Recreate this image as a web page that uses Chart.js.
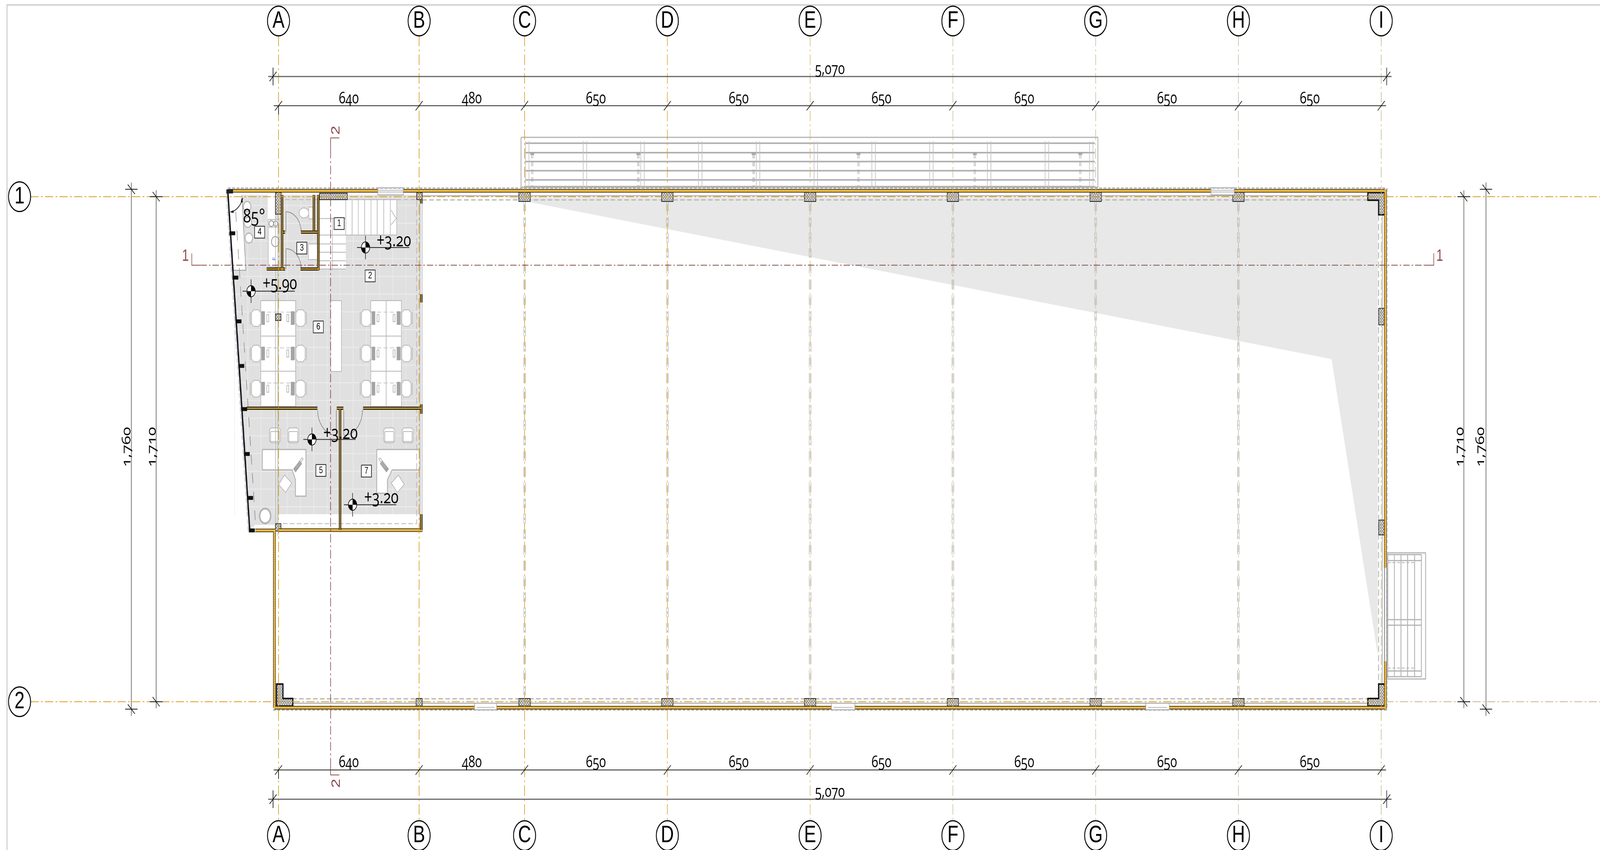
<!DOCTYPE html>
<html>
<head>
<meta charset="utf-8">
<title>Floor plan</title>
<script src="https://cdn.jsdelivr.net/npm/chart.js@4"></script>
<style>
  html, body { margin: 0; padding: 0; background: #fff; overflow: hidden; }
  canvas { display: block; font-feature-settings: "onum" 1; font-variant-numeric: oldstyle-nums; }
</style>
</head>
<body>
<canvas id="plan" width="5509" height="2177" style="width:100vw;height:100vh"></canvas>
<script>
// all plan values are in centimetres, origin = grid A / grid 1
const gridLetters = ['A', 'B', 'C', 'D', 'E', 'F', 'G', 'H', 'I'];
const gridSpans = [640, 480, 650, 650, 650, 650, 650, 650];
const gridColors = ['#d69a1e', '#d69a1e', '#d69a1e', '#d69a1e', '#d2b070', '#c9b48a', '#c4b596', '#c4b596', '#c9b48a'];
const rowLabels = ['1', '2'];
const rowY = [0, 1710];
const totalLength = 5070;
const totalWidth = 1760;
const innerWidth_ = 1710;
const wallOffset = 25;

const gridX = [0];
gridSpans.forEach(s => gridX.push(gridX[gridX.length - 1] + s));

// elevation marks
const levelLabels = ['+3.20', '+5.90', '+3.20', '+3.20'];
const levelX = [396, -125, 152, 337];
const levelY = [172, 320, 822, 1043];
const levelTextX = [525, 6, 282, 468];
const levelTextY = [150, 296, 802, 1020];

// room tags
const roomNumbers = ['1', '2', '3', '4', '5', '6', '7'];
const roomX = [276, 417, 106, -86, 193, 181, 400];
const roomY = [91, 268, 174, 120, 927, 441, 929];

// columns on the long walls
const topColumnGrids = [2, 3, 4, 5, 6, 7];
const bottomColumnGrids = [2, 3, 4, 5, 6, 7];
const sideColumnY = [[378, 434], [1095, 1145]];

// windows, [from, to]
const topWindows = [[452, 568], [4245, 4351]];
const bottomWindows = [[892, 993], [2517, 2624], [3948, 4055]];

// balcony on the long side
const railY = [-181, -149, -119, -88, -57, -34];
const railPostX = [1132, 1395, 1657, 1920, 2183, 2446, 2709, 2972, 3235, 3498, 3700];
const railBracketX = [1155, 1638, 2163, 2640, 3170, 3650];

// stair on the short side
const stairX = [5050, 5080, 5110, 5140, 5172, 5203];
const stairRailY = [1212, 1232, 1432, 1451, 1606, 1625];

// office furniture
const deskRows = [352, 472, 591, 711];
const chairX = [-102, 100, 399, 582];
const chairY = [411, 531, 650];
const monitorX = [-70, 64, 432, 546];
const standX = [-49, 42, 453, 526];
const visitorX = [-16, 67, 504, 588];
const stoolY = [33, 87, 140];
const stoolX = [-143, -140, -135];
const mullionY = [124, 274, 422, 573, 719, 871, 1020, 1130];
const mullionX = [-224, -210, -196, -183, -170, -158, -143, -135];
const tileX = [-200, -140, -80, -20, 40, 100, 160, 220, 280, 340, 400, 460, 520, 580, 640];
const tileY = [30, 90, 150, 210, 270, 330, 390, 450, 510, 570, 630, 690, 750, 810, 870, 930, 990, 1050];
const treadX = [306, 335, 363, 392, 421, 449, 479, 509, 538];
const treadY = [130, 160, 188, 217, 245];

const floorOutline = [[-228, -6], [650, -6], [650, 1075], [-3, 1075], [-3, 1111], [-106, 1111], [-131, 1128]];
const shadowOutline = [[1030, 2], [4794, 550], [5004, 1552], [5005, 2]];
const glassLine = [[-231, -18], [-131, 1132]];

const GREY = '#b4b4b4';
const WALL = '#e6ab25';
const SECTION = '#8b4a4a';

function rect(x0, y0, x1, y1) {
  return [[x0, y0], [x1, y0], [x1, y1], [x0, y1], [x0, y0]];
}
function box(cx, cy, w, h) {
  return rect(cx - w / 2, cy - h / 2, cx + w / 2, cy + h / 2);
}
function ring(cx, cy, rx, ry, a0 = 0, a1 = 360, wedge = false) {
  const pts = wedge ? [[cx, cy]] : [];
  for (let a = a0; a <= a1; a += 10) {
    pts.push([cx + rx * Math.cos(a * Math.PI / 180), cy + ry * Math.sin(a * Math.PI / 180)]);
  }
  if (wedge) pts.push([cx, cy]);
  return pts;
}
function chamfer(cx, cy, w, h, c) {
  const a = w / 2, b = h / 2;
  return [[cx - a + c, cy - b], [cx + a - c, cy - b], [cx + a, cy - b + c], [cx + a, cy + b - c],
    [cx + a - c, cy + b], [cx - a + c, cy + b], [cx - a, cy + b - c], [cx - a, cy - b + c], [cx - a + c, cy - b]];
}
function turned(cx, cy, w, h, deg) {
  const t = deg * Math.PI / 180;
  return [[-w, -h], [w, -h], [w, h], [-w, h], [-w, -h]].map(([a, b]) =>
    [cx + a / 2 * Math.cos(t) - b / 2 * Math.sin(t), cy + a / 2 * Math.sin(t) + b / 2 * Math.cos(t)]);
}

function toPoints(paths) {
  const out = [];
  paths.forEach(p => {
    p.forEach(([x, y]) => out.push({ x, y }));
    out.push({ x: null, y: null });
  });
  return out;
}

const layers = []; // back to front
function stroke(paths, color, width, dash) {
  layers.push({
    data: toPoints(paths), showLine: true, pointRadius: 0, fill: false, spanGaps: false,
    borderColor: color, borderWidth: width, borderDash: dash || [], borderCapStyle: 'butt', borderJoinStyle: 'miter'
  });
}
function solid(paths, bg, color, width) {
  layers.push({
    data: toPoints(paths), showLine: true, pointRadius: 0, fill: 'shape', spanGaps: false,
    backgroundColor: bg, borderColor: color || bg, borderWidth: width || 0, borderJoinStyle: 'miter'
  });
}

function hatchPattern() {
  const c = document.createElement('canvas');
  c.width = 8; c.height = 8;
  const g = c.getContext('2d');
  g.fillStyle = '#d8d8d8';
  g.fillRect(0, 0, 8, 8);
  g.strokeStyle = '#4c4c4c';
  g.lineWidth = 1;
  g.beginPath();
  g.moveTo(0, 0); g.lineTo(8, 8);
  g.moveTo(8, 0); g.lineTo(0, 8);
  g.stroke();
  return g.createPattern(c, 'repeat');
}
const hatch = hatchPattern();

// ---- shadow and office floor
solid([[...shadowOutline, shadowOutline[0]]], '#e8e8e8');
solid([[...floorOutline, floorOutline[0]]], '#e0e0e0');

const glassXAt = y => glassLine[0][0] + (y - glassLine[0][1]) * (glassLine[1][0] - glassLine[0][0]) / (glassLine[1][1] - glassLine[0][1]);
stroke(tileX.map(x => [[x, -6], [x, 1075]]), '#ededed', 2);
stroke(tileY.map(y => [[glassXAt(y), y], [650, y]]), '#ededed', 2);

// white parts of the office: terrace wedge, counter, stairs
solid([[[-231, -6], [-167, -6], [-149, 249], [-206, 249], [-231, -6]]], '#ffffff');
stroke([[[-167, -6], [-149, 249], [-206, 249]]], '#999999', 2);
solid([rect(-49, -6, -14, 249)], '#ffffff');
solid([rect(184, 10, 306, 245), rect(306, 10, 538, 130)], '#ffffff');
solid([rect(-3, 1075, 650, 1129)], '#ffffff');
solid([rect(-106, 1112, -14, 1130)], '#ffffff');

// stairs
stroke(treadX.map(x => [[x, 10], [x, 130]]), GREY, 2);
stroke(treadY.map(y => [[184, y], [306, y]]), GREY, 2);
stroke([[[184, 10], [538, 10]], [[245, 130], [538, 130]], [[245, 71], [245, 249]], [[184, 74], [306, 74]],
  [[512, 45], [536, 74], [512, 95]]], GREY, 2);

// desks
[[-81, -1, 78], [420, 490, 559]].forEach(([a, m, b]) => {
  solid([rect(a, deskRows[0], b, deskRows[3])], '#ffffff', GREY, 2);
  stroke([[[m, deskRows[0]], [m, deskRows[3]]], ...deskRows.slice(1, 3).map(y => [[a, y], [b, y]])], GREY, 2);
  stroke([391, 512, 631].map(y => [[a, y], [b, y]]), '#c8c8c8', 2, [14, 8]);
});
solid([rect(237, 352, 286, 592)], '#ffffff', GREY, 2);
chairY.forEach(y => {
  chairX.forEach((x, i) => {
    solid([chamfer(x, y, 42, 56, 10)], '#ffffff', GREY, 2);
    stroke([[[x - 27, y - 22], [x - 27, y + 22]], [[x + 27, y - 22], [x + 27, y + 22]]], GREY, 2);
    solid([box(monitorX[i], y, 16, 46)], '#a4a4a4');
    stroke([box(standX[i], y, 9, 24)], GREY, 2);
  });
});
visitorX.forEach(x => {
  solid([chamfer(x, 808, 50, 50, 7)], '#ffffff', GREY, 2);
  stroke([box(x, 812, 40, 34)], GREY, 2);
});
solid([[[-74, 856], [125, 856], [125, 1014], [77, 1014], [77, 958], [62, 925], [-74, 925], [-74, 856]]], '#ffffff', GREY, 3);
solid([[[447, 856], [643, 856], [643, 925], [517, 925], [496, 958], [496, 1004], [447, 1004], [447, 856]]], '#ffffff', GREY, 3);
solid([turned(30, 972, 42, 42, 40), turned(543, 972, 42, 42, 50)], '#ffffff', GREY, 2);
solid([turned(87, 913, 42, 16, -45), turned(482, 913, 42, 16, 45)], '#a4a4a4');
stroke([turned(96, 900, 38, 7, -45), turned(473, 900, 38, 7, 45)], GREY, 2);

// plant, stools, kitchen, toilet
solid([ring(-61, 1081, 25, 25)], '#ffffff', GREY, 5);
solid(stoolX.map((x, i) => ring(x, stoolY[i], 17, 17)), '#ffffff', GREY, 3);
solid([rect(-47, 77, 3, 237), rect(-47, 77, 3, 103)], '#ffffff', GREY, 2);
stroke([ring(-33, 91, 10, 10), ring(-13, 91, 9, 9), ring(-15, 152, 17, 17)], '#8a8a8a', 2);
solid([ring(116, 55, 22, 17), box(147, 55, 18, 40), rect(136, 160, 177, 213)], '#ffffff', GREY, 2);

// door swings
stroke([[[34, 120], [34, 51]], ring(34, 120, 69, 69, -90, 0), [[34, 245], [34, 176]], ring(34, 245, 69, 69, -90, 0),
  [[263, 723], [263, 808]], ring(263, 723, 85, 85, 90, 180), [[297, 723], [297, 808]], ring(297, 723, 85, 85, 0, 90)], '#8a8a8a', 2);

// ceiling outline and inner lines
stroke([rect(-2, 10, 629, 1107)], GREY, 2, [16, 8]);
stroke([[[-14, -6], [-14, 1150]], [[-3, -6], [-3, 1150]], [[643, 10], [643, 1128]], [[654, 10], [654, 1128]]], GREY, 2);
stroke([[[-195, 51], [-106, 1095]]], '#8f8f8f', 2, [26, 22]);
stroke([[[-239, -22], [-138, 1134]]], GREY, 2, [12, 6]);

// long inner lines of the hall
stroke([[[654, 11], [5008, 11]], [[-2, 1700], [5008, 1700]], [[5008, 61], [5008, 1650]]], GREY, 3, [16, 8]);
stroke([[[654, -3], [5008, -3]], [[20, 1715], [4960, 1715]], [[5025, 61], [5025, 1650]]], '#999999', 2);
stroke(gridX.slice(2, 8).flatMap(x => [[[x - 4, 16], [x - 4, 1699]], [[x + 4, 16], [x + 4, 1699]]]), '#bcbcbc', 2, [25, 15]);

// balcony
stroke([rect(1104, -201, 3730, -32)], GREY, 3);
stroke(railY.map(y => [[1122, y], [3716, y]]), '#b0b0b0', 4);
stroke(railPostX.flatMap(x => [[[x - 8, -188], [x - 8, -30]], [[x + 8, -188], [x + 8, -30]]]), '#c0c0c0', 2);
stroke(railBracketX.flatMap(x => [[[x - 3, -145], [x - 3, -34]], [[x + 3, -145], [x + 3, -34]]]), '#a8a8a8', 2, [12, 8]);
solid(railBracketX.map(x => box(x, -146, 18, 10)), '#a8a8a8');
stroke([[[1104, -27], [3730, -27]]], '#ffffff', 4, [12, 8]);

// side stair
stroke([rect(5049, 1206, 5222, 1633)], GREY, 3);
stroke(stairX.map(x => [[x, 1212], [x, 1625]]), GREY, 3);
stroke(stairRailY.map(y => [[5050, y], [5203, y]]), GREY, 3);
stroke([[[5050, 1239], [5172, 1239]], [[5050, 1596], [5172, 1596]]], GREY, 2, [10, 6]);
stroke([[[5035, 1256], [5035, 1573]], [[5045, 1256], [5045, 1573]]], '#8a8a8a', 3);

// columns
const columnRects = [
  ...topColumnGrids.map(i => rect(gridX[i] - 26, -15, gridX[i] + 26, 16)),
  ...bottomColumnGrids.map(i => rect(gridX[i] - 26, 1699, gridX[i] + 26, 1725)),
  rect(626, 1699, 654, 1725),
  ...sideColumnY.map(([a, b]) => rect(5008, a, 5034, b)),
  rect(-14, -14, 12, 59), rect(-14, 397, 11, 419), rect(-14, 1107, 11, 1132),
  rect(186, -12, 313, 10), rect(629, -14, 654, 10)
];
const cornerColumns = [
  [[4959, -14], [5036, -14], [5036, 61], [5008, 61], [5008, 12], [4959, 12], [4959, -14]],
  [[4959, 1725], [5036, 1725], [5036, 1650], [5008, 1650], [5008, 1699], [4959, 1699], [4959, 1725]],
  [[65, 1725], [-9, 1725], [-9, 1650], [20, 1650], [20, 1699], [65, 1699], [65, 1725]]
];
solid(columnRects, hatch, '#222222', 2);
solid(cornerColumns, hatch, '#111111', 4);

// walls: dark body with insulation on top
const topWall = [[-228, -20]];
topWindows.forEach(([a, b]) => topWall.push([a, -20], null, [b, -20]));
topWall.push([5039, -20]);
const splitPath = list => list.reduce((acc, p) => {
  if (p === null) acc.push([]); else acc[acc.length - 1].push(p);
  return acc;
}, [[]]);
const bottomWall = [[-19, 1730]];
bottomWindows.forEach(([a, b]) => bottomWall.push([a, 1730], null, [b, 1730]));
bottomWall.push([5039, 1730]);
const outerWalls = [
  ...splitPath(topWall), ...splitPath(bottomWall),
  [[5039, -25], [5039, 1256]], [[5039, 1573], [5039, 1735]],
  [[-19, 1128], [-19, 1730]], [[-106, 1130], [-14, 1130]], [[-2, 1129], [655, 1129]]
];
stroke(outerWalls, '#1c1c1c', 9);
stroke(outerWalls, WALL, 6);
stroke(outerWalls, '#fff3d0', 2, [2, 4]);
const innerWalls = [
  [[16, -6], [16, 249]], [[161, -6], [161, 116]], [[181, -6], [181, 249]],
  [[20, 120], [30, 120]], [[102, 120], [177, 120]], [[-54, 245], [30, 245]], [[100, 245], [184, 245]],
  [[-145, 716], [177, 716]], [[265, 716], [295, 716]], [[385, 716], [650, 716]], [[280, 719], [280, 1128]],
  [[650, 10], [650, 23]], [[650, 330], [650, 358]], [[650, 703], [650, 735]], [[650, 1075], [650, 1128]]
];
stroke(innerWalls, '#161616', 8);
stroke(innerWalls, WALL, 3);

// windows on the long walls
solid([...topWindows.map(([a, b]) => rect(a, -30, b, -6)), ...bottomWindows.map(([a, b]) => rect(a, 1715, b, 1737))], '#ffffff', '#9a9a9a', 2);
stroke([...topWindows.flatMap(([a, b]) => [[[a, -22], [b, -22]], [[a, -16], [b, -16]]]),
  ...bottomWindows.map(([a, b]) => [[a + 10, 1729], [b - 10, 1729]])], GREY, 2);
stroke([[[-231, -29], [5045, -29]], [[-25, 1738], [5045, 1738]], [[5046, -29], [5046, 1738]]], '#aaaaaa', 3, [10, 5]);

// glazed front with its mullions
stroke([glassLine], '#15151f', 5);
stroke(mullionX.map((x, i) => [[x, mullionY[i]], [x + 27, mullionY[i]]]), '#111111', 10);
solid([box(-222, -18, 30, 14)], '#222222');

// grid lines
const bubbleTop = -595, bubbleBottom = 2163, bubbleLeft = -1179;
gridX.forEach((x, i) => {
  stroke([[[x, bubbleTop + 50], [x, bubbleBottom - 50]]], gridColors[i], 2, [27, 8, 5, 8]);
});
rowY.forEach(y => {
  stroke([[[bubbleLeft + 50, y], [5039, y]]], '#d69a1e', 2, [28, 8, 6, 8]);
  stroke([[[5039, y], [6016, y]]], y === 0 ? '#d69a1e' : '#c9b48a', 2, [28, 8, 6, 8]);
});

// section lines
const sectionLeft = -395, sectionRight = 5259, sectionY = 232, sectionCol = 237;
stroke([[[sectionLeft + 40, sectionY], [sectionRight - 40, sectionY]],
  [[sectionCol, -159], [sectionCol, 1918]]], SECTION, 2, [22, 7, 5, 7]);
stroke([[[sectionLeft, sectionY - 40], [sectionLeft, sectionY], [sectionLeft + 40, sectionY]],
  [[sectionRight - 40, sectionY], [sectionRight, sectionY], [sectionRight, sectionY - 40]],
  [[sectionCol + 40, -199], [sectionCol, -199], [sectionCol, -159]],
  [[sectionCol, 1918], [sectionCol, 1958], [sectionCol + 40, 1958]]], SECTION, 2);

// angle mark
stroke([ring(-231, -18, 72, 72, 18, 78)], '#111111', 2);
solid([[[-168, 4], [-162, 18], [-172, 20], [-168, 4]], [[-222, 52], [-205, 46], [-205, 55], [-222, 52]]], '#111111');

// room tags
solid(roomX.map((x, i) => box(x, roomY[i], 46, 40)), '#ffffff', '#222222', 2);

// elevation marks
stroke(levelX.flatMap((x, i) => [[[x - 39, levelY[i]], [x + 199, levelY[i]]], [[x, levelY[i] - 40], [x, levelY[i] + 40]]]), '#222222', 2);
solid(levelX.map((x, i) => ring(x, levelY[i], 19, 19)), '#ffffff', '#111111', 2);
solid(levelX.flatMap((x, i) => [ring(x, levelY[i], 19, 19, -90, 0, true), ring(x, levelY[i], 19, 19, 90, 180, true)]), '#000000');

// dimension chains
const dimTopTotal = -407, dimTopSpan = -308, dimBottomSpan = 1941, dimBottomTotal = 2040;
const dimLeftTotal = -670, dimLeftInner = -557, dimRightInner = 5396, dimRightTotal = 5497;
const totalStart = -wallOffset, totalEnd = totalStart + totalLength;
const rowTop = -wallOffset, rowBottom = rowTop + totalWidth;
const slash = (x, y) => [[x - 16, y + 16], [x + 16, y - 16]];
const back = (x, y) => [[x - 16, y - 16], [x + 16, y + 16]];

[dimTopSpan, dimBottomSpan].forEach(y => {
  stroke([[[gridX[0] - 22, y], [gridX[8] + 22, y]]], '#222222', 2);
  stroke([...gridX.map(x => slash(x, y)), [[gridX[0], y], [gridX[0], y + 30]]], '#111111', 2);
});
[dimTopTotal, dimBottomTotal].forEach(y => {
  stroke([[[totalStart - 22, y], [totalEnd + 22, y]]], '#666666', 3);
  stroke([slash(totalStart, y), slash(totalEnd, y), [[totalStart, y - 30], [totalStart, y + 30]], [[totalEnd, y - 30], [totalEnd, y + 30]]], '#111111', 2);
});
[dimLeftInner, dimRightInner].forEach(x => {
  stroke([[[x, rowY[0] - 22], [x, rowY[1] + 22]]], '#888888', 3);
  stroke([back(x, rowY[0]), back(x, rowY[1]), [[x - 29, rowY[0]], [x + 29, rowY[0]]], [[x - 29, rowY[1]], [x + 29, rowY[1]]]], '#111111', 2);
});
[dimLeftTotal, dimRightTotal].forEach(x => {
  stroke([[[x, rowTop - 23], [x, rowBottom + 23]]], '#888888', 3);
  stroke([back(x, rowTop), back(x, rowBottom), [[x - 28, rowTop], [x + 28, rowTop]], [[x - 28, rowBottom], [x + 28, rowBottom]]], '#111111', 2);
});

// frame of the sheet
stroke([[[-1236, 2212], [-1236, -649], [6016, -649]]], '#c6c6c6', 3);

// grid bubbles
layers.push({
  data: [
    ...gridX.flatMap(x => [{ x, y: bubbleTop }, { x, y: bubbleBottom }]),
    ...rowY.map(y => ({ x: bubbleLeft, y }))
  ],
  showLine: false, pointRadius: 38, pointStyle: 'circle',
  pointBackgroundColor: '#ffffff', pointBorderColor: '#000000', pointBorderWidth: 3
});

// text, placed through the same scales
const NUM = '"Open Sans"';
const SANS = '"Liberation Sans"';
const texts = [];
function label(text, x, y, size, opts = {}) {
  texts.push({ text, x, y, size, font: opts.font || NUM, color: opts.color || '#000000', rotate: opts.rotate || 0 });
}
gridLetters.forEach((t, i) => {
  label(t, gridX[i], bubbleTop, 62, { font: SANS });
  label(t, gridX[i], bubbleBottom, 62, { font: SANS });
});
rowLabels.forEach((t, i) => label(t, bubbleLeft, rowY[i], 62, { font: SANS }));
const fmt = n => n.toLocaleString('en-US');
gridSpans.forEach((s, i) => {
  const mid = (gridX[i] + gridX[i + 1]) / 2;
  label(fmt(s), mid, -332, 42);
  label(fmt(s), mid, 1916, 42);
});
label(fmt(totalLength), 2510, -430, 42);
label(fmt(totalLength), 2510, 2017, 42);
label(fmt(totalWidth), -690, 847, 42, { rotate: -90 });
label(fmt(innerWidth_), -575, 847, 42, { rotate: -90 });
label(fmt(innerWidth_), 5379, 847, 42, { rotate: -90 });
label(fmt(totalWidth), 5472, 847, 42, { rotate: -90 });
levelLabels.forEach((t, i) => label(t, levelTextX[i], levelTextY[i], 48));
label('85°', -111, 69, 50);
roomNumbers.forEach((t, i) => label(t, roomX[i], roomY[i], 24, { font: SANS }));
label('1', -424, 202, 42, { color: SECTION, font: SANS });
label('1', 5286, 202, 42, { color: SECTION, font: SANS });
label('2', 262, -225, 42, { color: SECTION, font: SANS, rotate: -90 });
label('2', 264, 1986, 42, { color: SECTION, font: SANS, rotate: -90 });
label('F', -20, 210, 14, { color: '#3a50d8', font: SANS, rotate: -90 });

const planText = {
  id: 'planText',
  afterDatasetsDraw(chart) {
    const { ctx, scales } = chart;
    ctx.save();
    ctx.textAlign = 'center';
    ctx.textBaseline = 'middle';
    texts.forEach(t => {
      ctx.save();
      ctx.translate(scales.x.getPixelForValue(t.x), scales.y.getPixelForValue(t.y));
      ctx.rotate(t.rotate * Math.PI / 180);
      ctx.font = `${t.size}px ${t.font}`;
      ctx.fillStyle = t.color;
      ctx.fillText(t.text, 0, 0);
      ctx.restore();
    });
    ctx.restore();
  }
};

new Chart(document.getElementById('plan'), {
  type: 'scatter',
  data: { datasets: layers.slice().reverse() },
  options: {
    responsive: false,
    devicePixelRatio: 1,
    animation: false,
    events: [],
    layout: { padding: 0, autoPadding: false },
    plugins: { legend: { display: false }, tooltip: { enabled: false }, title: { display: false } },
    scales: {
      x: { type: 'linear', display: false, min: -1268, max: 6016 },
      y: { type: 'linear', display: false, reverse: true, min: -666, max: 2212 }
    }
  },
  plugins: [planText]
});
</script>
</body>
</html>
